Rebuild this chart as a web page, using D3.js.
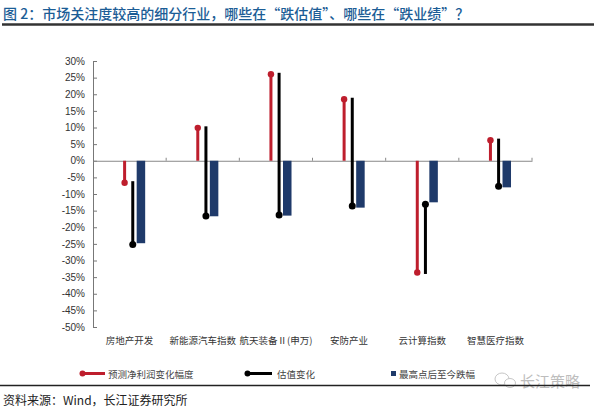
<!DOCTYPE html>
<html>
<head>
<meta charset="utf-8">
<script src="https://cdn.jsdelivr.net/npm/d3@7/dist/d3.min.js"></script>
<style>
  html, body { margin: 0; padding: 0; background: #fff; }
  svg { display: block; font-family: "Liberation Sans", "Noto Sans CJK SC", sans-serif; }
</style>
</head>
<body>
<svg id="chart" width="600" height="409"></svg>
<script>
// ---- data ----
const categories = ["房地产开发", "新能源汽车指数", "航天装备Ⅱ(申万)", "安防产业", "云计算指数", "智慧医疗指数"];
const profitChange = [-6.6, 9.9, 26.0, 18.5, -33.6, 6.2];          // 预测净利润变化幅度 (%)
const valuationChange = [-18.6, -26.5, -42.3, -32.1, 20.5, -13.9];  // 估值变化 (%), starting from profit change
const drawdown = [-24.8, -16.7, -16.5, -14.1, -12.5, -8.0];          // 最高点后至今跌幅 (%)
const yTicks = [30, 25, 20, 15, 10, 5, 0, -5, -10, -15, -20, -25, -30, -35, -40, -45, -50];
const seriesNames = ["预测净利润变化幅度", "估值变化", "最高点后至今跌幅"];

const colors = { profit: "#be1e2d", valuation: "#000000", drawdown: "#1f3a6a" };
const cjk = "\"Noto Sans CJK SC\", sans-serif";

const svg = d3.select("#chart");

// ---- title ----
svg.append("text")
  .attr("x", 3).attr("y", 12.5)
  .attr("dominant-baseline", "central")
  .style("font-family", cjk)
  .style("font-size", "14px")
  .style("font-weight", "500")
  .attr("fill", "#1c5d96")
  .text("图 2：市场关注度较高的细分行业，哪些在“跌估值”、哪些在“跌业绩”？");
svg.append("line")
  .attr("x1", 2).attr("x2", 594).attr("y1", 24.5).attr("y2", 24.5)
  .attr("stroke", "#333").attr("stroke-width", 2.5);

// ---- scales ----
const x0 = d3.scaleBand().domain(categories).range([93, 532]).padding(0);
const bw = x0.bandwidth();
const xs = d3.scalePoint().domain(["profit", "valuation", "drawdown"]).range([bw * 0.432, bw * 0.655]);
const y = d3.scaleLinear().domain([-50, 30]).range([327, 61]);

// ---- y axis ----
const yAxis = d3.axisLeft(y).tickValues(yTicks).tickSize(-4).tickPadding(8)
  .tickFormat(d => d + "%");
const gy = svg.append("g").attr("transform", "translate(93,0)").call(yAxis);
gy.select(".domain").attr("stroke", "#777");
gy.selectAll(".tick line").attr("stroke", "#777");
gy.selectAll(".tick text").attr("fill", "#333").style("font-size", "10px");

// ---- zero line with category ticks ----
const xAxis = d3.axisBottom(x0).tickValues([]).tickSizeOuter(0);
const gx = svg.append("g").attr("transform", `translate(0,${y(0)})`).call(xAxis);
gx.select(".domain").attr("stroke", "#888");
const bounds = categories.map(c => x0(c) + bw);
svg.append("g").selectAll("line").data(bounds).join("line")
  .attr("x1", d => d).attr("x2", d => d)
  .attr("y1", y(0)).attr("y2", y(0) - 3)
  .attr("stroke", "#888");

// ---- category labels ----
const gl = svg.append("g").attr("transform", "translate(0,341)")
  .call(d3.axisBottom(x0).tickSize(0).tickPadding(0));
gl.select(".domain").remove();
gl.selectAll(".tick text")
  .attr("dy", "0.35em")
  .attr("y", 0)
  .style("font-family", cjk)
  .style("font-size", "9.5px")
  .attr("fill", "#333");

// ---- marks ----
const data = categories.map((c, i) => ({
  c, p: profitChange[i], v: valuationChange[i], d: drawdown[i]
}));

const plot = svg.append("g");

// blue bars
plot.selectAll("rect.dd").data(data).join("rect")
  .attr("class", "dd")
  .attr("x", d => x0(d.c) + xs("drawdown") - 4.25)
  .attr("width", 8.5)
  .attr("y", d => Math.min(y(0), y(d.d)))
  .attr("height", d => Math.abs(y(d.d) - y(0)))
  .attr("fill", colors.drawdown);

// red lines
plot.selectAll("line.pr").data(data).join("line")
  .attr("class", "pr")
  .attr("x1", d => x0(d.c) + xs("profit")).attr("x2", d => x0(d.c) + xs("profit"))
  .attr("y1", y(0)).attr("y2", d => y(d.p))
  .attr("stroke", colors.profit).attr("stroke-width", 3);
plot.selectAll("circle.pr").data(data).join("circle")
  .attr("class", "pr")
  .attr("cx", d => x0(d.c) + xs("profit")).attr("cy", d => y(d.p))
  .attr("r", 3.2).attr("fill", colors.profit);

// black lines
plot.selectAll("line.va").data(data).join("line")
  .attr("class", "va")
  .attr("x1", d => x0(d.c) + xs("valuation")).attr("x2", d => x0(d.c) + xs("valuation"))
  .attr("y1", d => y(d.p)).attr("y2", d => y(d.p + d.v))
  .attr("stroke", colors.valuation).attr("stroke-width", 3)
  .attr("stroke-linecap", "square");
plot.selectAll("circle.va").data(data).join("circle")
  .attr("class", "va")
  .attr("cx", d => x0(d.c) + xs("valuation")).attr("cy", d => y(d.p + d.v))
  .attr("r", 3.5).attr("fill", colors.valuation);

// ---- legend ----
const ly = 373.5;
const leg = svg.append("g");
// red
leg.append("line").attr("x1", 81).attr("x2", 105).attr("y1", ly).attr("y2", ly)
  .attr("stroke", colors.profit).attr("stroke-width", 3);
leg.append("circle").attr("cx", 82.5).attr("cy", ly).attr("r", 3).attr("fill", colors.profit);
// black
leg.append("line").attr("x1", 246).attr("x2", 272).attr("y1", ly).attr("y2", ly)
  .attr("stroke", colors.valuation).attr("stroke-width", 3);
leg.append("circle").attr("cx", 247.5).attr("cy", ly).attr("r", 3).attr("fill", colors.valuation);
// blue
leg.append("rect").attr("x", 391).attr("y", ly - 2.5).attr("width", 5).attr("height", 5)
  .attr("fill", colors.drawdown);
const legX = [108, 277, 399];
leg.selectAll("text").data(seriesNames).join("text")
  .attr("x", (d, i) => legX[i]).attr("y", ly)
  .attr("dominant-baseline", "central")
  .style("font-family", cjk).style("font-size", "9.5px")
  .attr("fill", "#444")
  .text(d => d);

// ---- watermark ----
const wm = svg.append("g").attr("opacity", 0.55);
wm.append("ellipse").attr("cx", 502).attr("cy", 379).attr("rx", 7).attr("ry", 6)
  .attr("fill", "none").attr("stroke", "#999").attr("stroke-width", 1);
wm.append("ellipse").attr("cx", 510).attr("cy", 383).attr("rx", 5.5).attr("ry", 4.5)
  .attr("fill", "#fff").attr("stroke", "#999").attr("stroke-width", 1);
wm.append("text").attr("x", 520).attr("y", 380.5)
  .attr("dominant-baseline", "central")
  .style("font-family", cjk).style("font-size", "15px")
  .attr("fill", "#888")
  .text("长江策略");

// ---- bottom rule and source ----
svg.append("line").attr("x1", 0).attr("x2", 590).attr("y1", 385.5).attr("y2", 385.5)
  .attr("stroke", "#222").attr("stroke-width", 1.5);
svg.append("text").attr("x", 3).attr("y", 399.5)
  .attr("dominant-baseline", "central")
  .style("font-family", cjk).style("font-size", "12px")
  .attr("fill", "#222")
  .text("资料来源：Wind，长江证券研究所");
</script>
</body>
</html>
